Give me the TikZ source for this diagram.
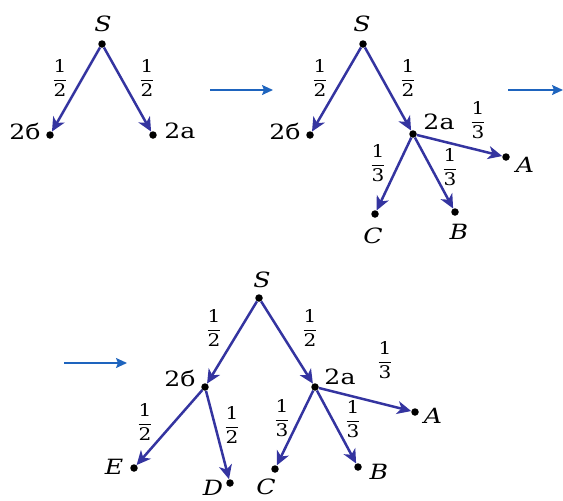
\RequirePackage{fix-cm}
\documentclass[tikz,border=0pt]{standalone}
\usepackage{fontspec}
\setmainfont{DejaVu Serif}
\usetikzlibrary{arrows.meta}
\definecolor{treeblue}{RGB}{52,52,160}
\definecolor{flowblue}{RGB}{30,100,190}
\newcommand{\wlab}[1]{\scalebox{1.2}[1]{#1}}
\newcommand{\myfr}[2]{\scalebox{1.15}[1]{$\displaystyle\frac{\mbox{#1}}{\mbox{#2}}$}}
\begin{document}
\begin{tikzpicture}[x=1pt,y=-1pt,
 dot/.style={circle,fill=black,inner sep=0pt,minimum size=7.5pt},
 edge/.style={draw=treeblue,line width=2.5pt,-{Stealth[length=14pt,width=13pt,inset=4pt]}},
 lbl/.style={inner sep=0pt,font=\fontsize{21}{22}\selectfont},
 frac/.style={inner sep=0pt,font=\fontsize{17.5}{18}\selectfont},
 flow/.style={draw=flowblue,line width=1.6pt,-{Stealth[length=11pt,width=10pt,inset=2pt]}}]
\useasboundingbox (0,0) rectangle (563,501);
% tree 1
\node[dot] (S1) at (102,44) {};
\node[dot] (b1) at (50,135) {};
\node[dot] (a1) at (153,135) {};
\node[lbl] (S1l) at (103,24) {\wlab{\textit{S}}};
\node[lbl] (b1l) at (25,131) {\wlab{2б}};
\node[lbl] (a1l) at (180,131) {\wlab{2a}};
\draw[edge] (S1) -- (b1);
\draw[edge] (S1) -- (a1);
\node[frac] (f11) at (60,78) {\myfr{1}{2}};
\node[frac] (f12) at (147,78) {\myfr{1}{2}};
% flow arrows
\coordinate (p1) at (210,90); \coordinate (q1) at (273,90);
\coordinate (p2) at (508,90); \coordinate (q2) at (563,90);
\coordinate (p3) at (64,363); \coordinate (q3) at (127,363);
\draw[flow] (p1) -- (q1);
\draw[flow] (p2) -- (q2);
\draw[flow] (p3) -- (q3);
% tree 2
\node[dot] (S2) at (363,44) {};
\node[dot] (b2) at (310,135) {};
\node[dot] (a2) at (413,134) {};
\node[dot] (A2) at (506,157) {};
\node[dot] (C2) at (375,214) {};
\node[dot] (B2) at (455,212) {};
\node[lbl] (S2l) at (362,24) {\wlab{\textit{S}}};
\node[lbl] (b2l) at (285,131) {\wlab{2б}};
\node[lbl] (a2l) at (439,122) {\wlab{2a}};
\node[lbl] (A2l) at (525,165) {\wlab{\textit{A}}};
\node[lbl] (C2l) at (373,236) {\wlab{\textit{C}}};
\node[lbl] (B2l) at (459,232) {\wlab{\textit{B}}};
\draw[edge] (S2) -- (b2);
\draw[edge] (S2) -- (a2);
\draw[edge] (a2) -- (A2);
\draw[edge] (a2) -- (C2);
\draw[edge] (a2) -- (B2);
\node[frac] (f21) at (320,78) {\myfr{1}{2}};
\node[frac] (f22) at (408,78) {\myfr{1}{2}};
\node[frac] (f23) at (478,120) {\myfr{1}{3}};
\node[frac] (f24) at (378,163) {\myfr{1}{3}};
\node[frac] (f25) at (450,167) {\myfr{1}{3}};
% tree 3
\node[dot] (S3) at (259,298) {};
\node[dot] (b3) at (205,387) {};
\node[dot] (a3) at (315,387) {};
\node[dot] (A3) at (415,412) {};
\node[dot] (B3) at (358,467) {};
\node[dot] (C3) at (275,469) {};
\node[dot] (E3) at (134,468) {};
\node[dot] (D3) at (230,483) {};
\node[lbl] (S3l) at (262,280) {\wlab{\textit{S}}};
\node[lbl] (b3l) at (180,378) {\wlab{2б}};
\node[lbl] (a3l) at (340,377) {\wlab{2a}};
\node[lbl] (A3l) at (433,416) {\wlab{\textit{A}}};
\node[lbl] (B3l) at (379,472) {\wlab{\textit{B}}};
\node[lbl] (C3l) at (266,487) {\wlab{\textit{C}}};
\node[lbl] (D3l) at (213,488) {\wlab{\textit{D}}};
\node[lbl] (E3l) at (114,467) {\wlab{\textit{E}}};
\draw[edge] (S3) -- (b3);
\draw[edge] (S3) -- (a3);
\draw[edge] (a3) -- (A3);
\draw[edge] (a3) -- (B3);
\draw[edge] (a3) -- (C3);
\draw[edge] (b3) -- (E3);
\draw[edge] (b3) -- (D3);
\node[frac] (f31) at (214,328) {\myfr{1}{2}};
\node[frac] (f32) at (310,328) {\myfr{1}{2}};
\node[frac] (f33) at (385,360) {\myfr{1}{3}};
\node[frac] (f34) at (282,418) {\myfr{1}{3}};
\node[frac] (f35) at (353,419) {\myfr{1}{3}};
\node[frac] (f36) at (145,422) {\myfr{1}{2}};
\node[frac] (f37) at (232,425) {\myfr{1}{2}};
\end{tikzpicture}
\end{document}
